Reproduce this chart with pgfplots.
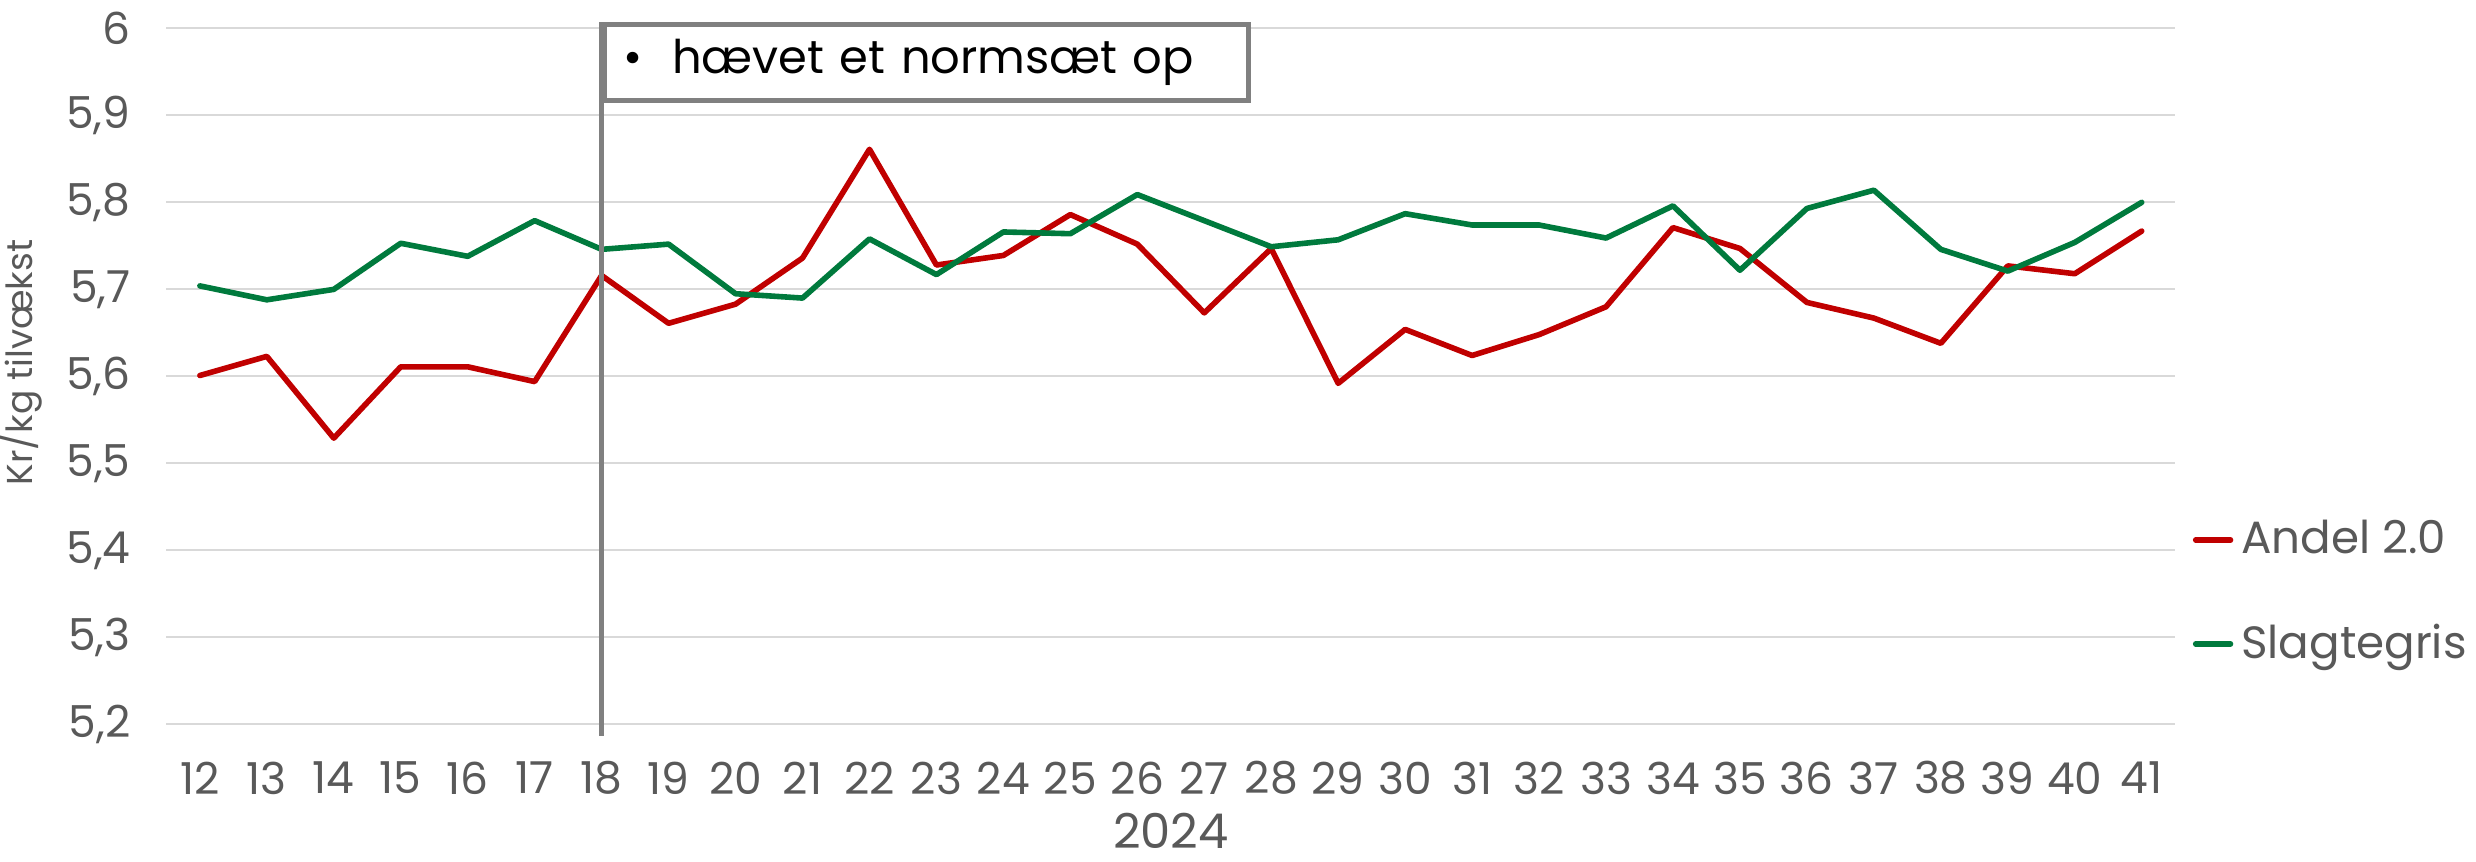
\documentclass[border=0pt]{standalone}
\usepackage{pgfplots}
\pgfplotsset{compat=1.18}
\usepackage{fontspec}
\setmainfont{Poppins}
\definecolor{tickgray}{HTML}{595959}
\definecolor{gridgray}{HTML}{D9D9D9}
\definecolor{andelred}{HTML}{C00000}
\definecolor{slagtgreen}{HTML}{007A3D}
\definecolor{markgray}{HTML}{808080}
\begin{document}
\begin{tikzpicture}
\path[use as bounding box] (0,0) rectangle (619pt,215.5pt);
\begin{axis}[
  at={(41.6pt,34.4pt)}, anchor=south west,
  width=502.2pt, height=174pt, scale only axis,
  xmin=11.5, xmax=41.5, ymin=5.2, ymax=6,
  xtick={12,...,41},
  ytick={5.2,5.3,5.4,5.5,5.6,5.7,5.8,5.9,6},
  yticklabels={5{,}2,5{,}3,5{,}4,5{,}5,5{,}6,5{,}7,5{,}8,5{,}9,6},
  axis line style={draw=none},
  major tick length=0pt,
  ymajorgrids, grid style={gridgray, line width=0.5pt},
  tick label style={font=\fontsize{11}{12}\selectfont, text=tickgray},
  /pgf/number format/assume math mode=true,
  xticklabel style={anchor=center, inner sep=0pt, yshift=-13.4pt},
  yticklabel style={anchor=east, inner sep=0pt, xshift=-8.8pt},
  xlabel={2024},
  xlabel style={at={(axis description cs:0.5,0)}, anchor=center, yshift=-26.6pt, font=\fontsize{12}{13}\selectfont, text=tickgray, inner sep=0pt},
  ylabel={Kr/kg tilvækst},
  ylabel style={at={(axis description cs:-0.0729,0.52)}, anchor=center, font=\fontsize{9}{10}\selectfont, text=tickgray, inner sep=0pt},
  clip=false,
  legend style={draw=none, fill=none, at={(axis description cs:1.0084,0.19)}, anchor=west,
    font=\fontsize{11.3}{12.5}\selectfont, text=tickgray, row sep=12pt, inner sep=0pt},
  legend cell align=left,
  legend image code/.code={\draw[#1] (0pt,0pt) -- (8.7pt,0pt);},
]
\addplot[andelred, line width=1.4pt, line cap=round, line join=round] coordinates {
(12,5.601) (13,5.623) (14,5.529) (15,5.611) (16,5.611) (17,5.594) (18,5.716) (19,5.661) (20,5.683) (21,5.736)
(22,5.861) (23,5.728) (24,5.739) (25,5.786) (26,5.752) (27,5.673) (28,5.747) (29,5.592) (30,5.654) (31,5.624)
(32,5.648) (33,5.680) (34,5.771) (35,5.747) (36,5.685) (37,5.667) (38,5.638) (39,5.727) (40,5.718) (41,5.767)
};
\addlegendentry{Andel 2.0}
\addplot[slagtgreen, line width=1.4pt, line cap=round, line join=round] coordinates {
(12,5.704) (13,5.688) (14,5.700) (15,5.753) (16,5.738) (17,5.779) (18,5.746) (19,5.752) (20,5.695) (21,5.690)
(22,5.758) (23,5.717) (24,5.766) (25,5.764) (26,5.809) (27,5.779) (28,5.749) (29,5.757) (30,5.787) (31,5.774)
(32,5.774) (33,5.759) (34,5.796) (35,5.722) (36,5.793) (37,5.814) (38,5.746) (39,5.721) (40,5.754) (41,5.800)
};
\addlegendentry{Slagtegris}
\draw[markgray, line width=1.3pt] (axis cs:18,5.1867) -- (axis cs:18,6.0074);
\node[draw=markgray, line width=1.3pt, fill=white, anchor=north west, minimum width=161pt, minimum height=19pt, inner sep=0pt, text=black, font=\fontsize{11.6}{13}\selectfont, align=left, text width=155pt]
  at (axis cs:18,6.0074) {\hspace*{1.8pt}\textbullet\hspace{7.4pt}hævet et normsæt op};
\end{axis}
\end{tikzpicture}
\end{document}
